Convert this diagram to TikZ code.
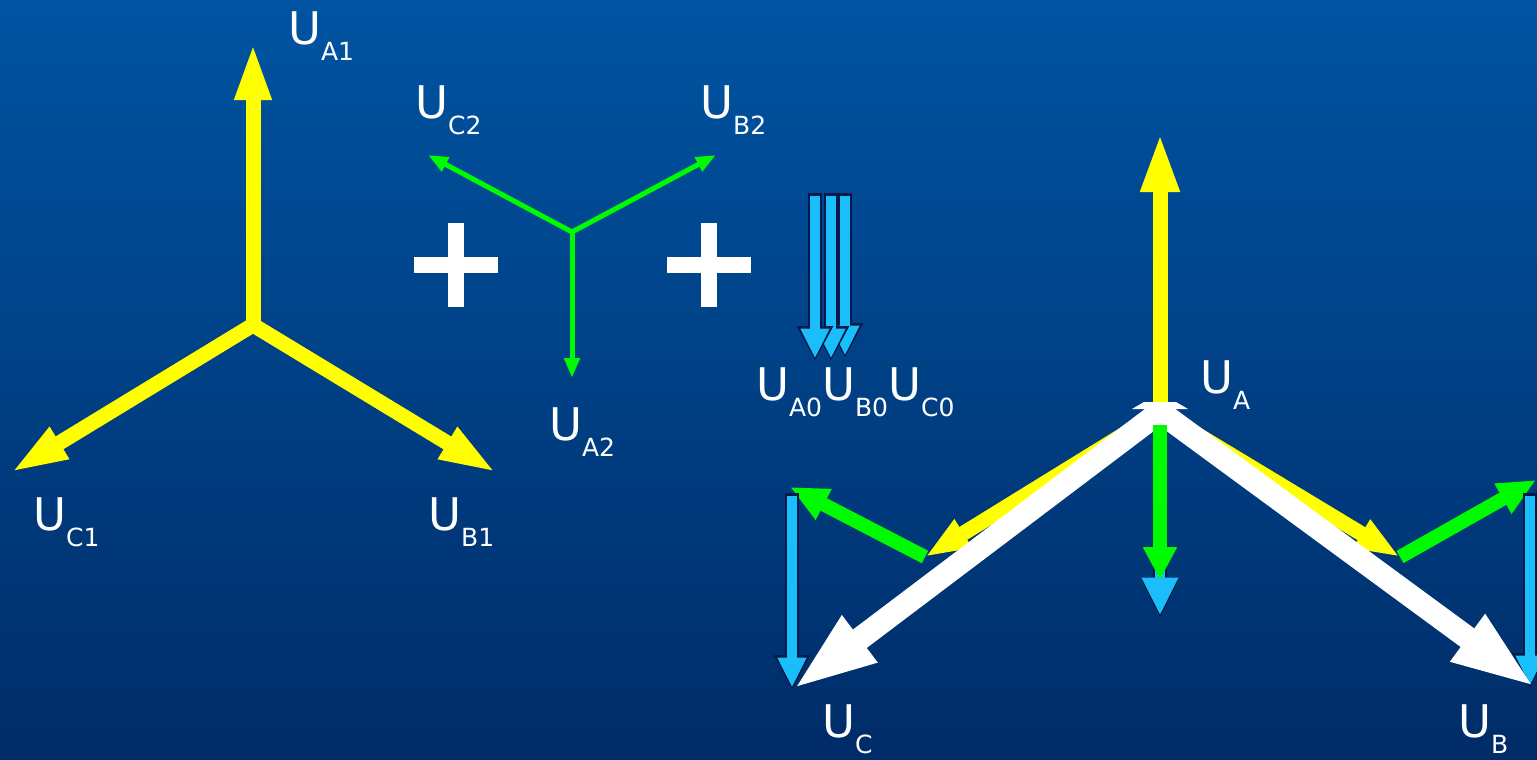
\documentclass[tikz,border=0pt]{standalone}
\usepackage{fontspec}
\setmainfont{DejaVu Sans}
\usetikzlibrary{arrows.meta,calc}
\definecolor{bgtop}{RGB}{0,84,162}
\definecolor{bgbot}{RGB}{0,44,104}
\definecolor{phyellow}{RGB}{255,255,0}
\definecolor{phgreen}{RGB}{0,250,0}
\definecolor{phcyan}{RGB}{25,190,250}
\definecolor{phedge}{RGB}{5,25,75}
\newcommand{\phs}[1]{U\raisebox{-16pt}{\fontsize{25}{25}\selectfont #1}}
% zero-sequence arrow: dark rim, then light fill
\newcommand{\zeroarr}[3][]{%
  \draw[zeroout,#1] (#2) -- (#3);
  \draw[zeroin,#1] (#2) -- (#3);}

\tikzset{
  lbl/.style={text=white, font=\fontsize{45}{45}\selectfont, anchor=base west, inner sep=0pt},
  posseq/.style={draw=phyellow, line width=15pt, -{Triangle[length=58pt,width=33pt]}},
  negseq/.style={draw=phgreen, line width=5pt, -{Triangle[length=20pt,width=15pt]}},
  negbig/.style={draw=phgreen, line width=14pt, -{Triangle[length=38pt,width=32pt]}},
  total/.style={draw=white, line width=23pt, -{Triangle[length=85pt,width=52pt]}},
  zeroout/.style={draw=phedge, line width=14pt, -{Triangle[length=35pt,width=34pt]}},
  zeroin/.style={draw=phcyan, line width=9.5pt, shorten <=2.5pt, shorten >=2.5pt,
    -{Triangle[length=30pt,width=27pt]}},
  plusbar/.style={draw=white, line width=16pt}
}

\begin{document}
\begin{tikzpicture}[x=1pt, y=-1pt]
  \clip (0,0) rectangle (1537,760);
  \shade[top color=bgtop, bottom color=bgbot] (0,0) rectangle (1537,760);

  % positive sequence
  \coordinate (n1) at (253,325);
  \coordinate (a1) at (253,42);
  \coordinate (b1) at (497,473);
  \coordinate (c1) at (10,473);
  \draw[posseq] ($(n1)+(0,6)$) -- (a1);
  \draw[posseq] (n1) -- (b1);
  \draw[posseq] (n1) -- (c1);
  \node[lbl] (lA1) at (288,45) {\phs{A1}};
  \node[lbl] (lB1) at (428,530) {\phs{B1}};
  \node[lbl] (lC1) at (33,530) {\phs{C1}};

  % plus signs
  \draw[plusbar] (414,265) -- (498,265) (456,223) -- (456,307);
  \draw[plusbar] (667,265) -- (751,265) (709,223) -- (709,307);

  % negative sequence
  \coordinate (n2) at (572,232);
  \coordinate (a2) at (572,378);
  \coordinate (b2) at (716,155);
  \coordinate (c2) at (428,155);
  \draw[negseq] ($(n2)+(0,-2)$) -- (a2);
  \draw[negseq] (n2) -- (b2);
  \draw[negseq] (n2) -- (c2);
  \node[lbl] (lC2) at (415,118) {\phs{C2}};
  \node[lbl] (lB2) at (700,118) {\phs{B2}};
  \node[lbl] (lA2) at (549,440) {\phs{A2}};

  % zero sequence
  \coordinate (c0s) at (845,193); \coordinate (c0e) at (845,358);
  \coordinate (b0s) at (831,193); \coordinate (b0e) at (831,361);
  \coordinate (a0s) at (815,193); \coordinate (a0e) at (815,361);
  \zeroarr{c0s}{c0e}
  \zeroarr{b0s}{b0e}
  \zeroarr{a0s}{a0e}
  \node[lbl] (l0) at (756,400) {\phs{A0}\phs{B0}\phs{C0}};

  % resulting phasors
  \coordinate (n) at (1160,412);
  \coordinate (ua1) at (1160,132);
  \coordinate (uc1) at (925,557);
  \coordinate (ub1) at (1400,557);
  \coordinate (uc2) at (790,487);
  \coordinate (ub2) at (1536,480);
  \coordinate (ua2) at (1160,580);
  \coordinate (uc) at (792,690);
  \coordinate (ub) at (1536,688);
  \draw[posseq, -{Triangle[length=60pt,width=35pt]}] (n) -- (ua1);
  \draw[posseq, -{Triangle[length=45pt,width=30pt]}] (n) -- (uc1);
  \draw[posseq, -{Triangle[length=45pt,width=30pt]}] (n) -- (ub1);
  \draw[negbig] (uc1) -- (uc2);
  \draw[negbig] (ub1) -- (ub2);
  \zeroarr{792,493}{uc}
  \zeroarr{1530,493}{1530,688}
  \draw[total] (n) -- (uc);
  \draw[total] (n) -- (ub);
  \fill[white] (1132,409) -- (1188,409) -- (1176,402) -- (1144,402) -- cycle;
  \fill[white] (1160,418) circle (13pt);
  \zeroarr[{-{Triangle[length=38pt,width=34pt]}}]{1160,560}{1160,618}
  \draw[negbig, -{Triangle[length=33pt,width=32pt]}] (1160,425) -- (ua2);
  \node[lbl] (lA) at (1200,393) {\phs{A}};
  \node[lbl] (lC) at (822,737) {\phs{C}};
  \node[lbl] (lB) at (1458,737) {\phs{B}};
\end{tikzpicture}
\end{document}
